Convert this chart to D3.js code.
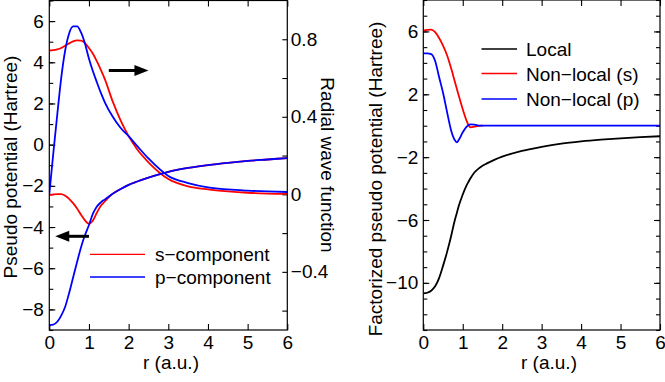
<!DOCTYPE html>
<html><head><meta charset="utf-8">
<script src="https://cdn.jsdelivr.net/npm/d3@7"></script>
<style>
body{margin:0;background:#fff}
svg{display:block}
text{font-family:"Liberation Sans",Arial,Helvetica,sans-serif;fill:#000}
</style>
</head><body>
<svg id="c" width="665" height="382"></svg>
<script>
// ---------- Data: left panel (pseudo potentials + radial wave functions) ----------
const rLeft  = [0,0.1,0.2,0.3,0.4,0.5,0.6,0.7,0.8,0.9,1.0,1.1,1.2,1.3,1.4,1.6,1.8,2.0,2.2,2.5,3.0,3.5,4.0,4.5,5.0,5.5,6.0];
const sPot   = [-2.45,-2.42,-2.40,-2.40,-2.48,-2.63,-2.84,-3.10,-3.40,-3.68,-3.84,-3.68,-3.30,-2.97,-2.76,-2.38,-2.15,-1.95,-1.80,-1.60,-1.32,-1.13,-0.99,-0.88,-0.79,-0.72,-0.65];
const pPot   = [-8.76,-8.74,-8.60,-8.30,-7.87,-7.20,-6.45,-5.70,-4.98,-4.39,-3.90,-3.35,-3.00,-2.80,-2.66,-2.38,-2.15,-1.95,-1.80,-1.60,-1.32,-1.13,-0.99,-0.88,-0.79,-0.72,-0.65];
const sWave  = [0.742,0.744,0.748,0.755,0.767,0.779,0.789,0.794,0.793,0.780,0.755,0.725,0.686,0.642,0.594,0.478,0.380,0.300,0.236,0.165,0.079,0.041,0.025,0.015,0.008,0.004,0.002];
const pWave  = [0.000,0.210,0.410,0.600,0.742,0.830,0.866,0.866,0.835,0.777,0.700,0.635,0.578,0.523,0.475,0.400,0.342,0.300,0.253,0.185,0.095,0.058,0.036,0.025,0.019,0.015,0.012];
const leftLegend = ["s\u2212component","p\u2212component"];
// arrows: [r start, r end, potential value]
const arrowRight = [1.5, 2.5, 3.6];
const arrowLeft  = [1.0, 0.15, -4.45];

// ---------- Data: right panel (factorized pseudo potential) ----------
const rRight = [0,0.1,0.2,0.3,0.4,0.5,0.6,0.7,0.8,0.85,0.9,1.0,1.1,1.15,1.2,1.3,1.4,1.5,1.6,1.8,2.0,2.5,3.0,3.5,4.0,4.5,5.0,5.5,6.0];
const localV = [-10.67,-10.63,-10.50,-10.22,-9.70,-8.92,-8.06,-7.08,-6.00,-5.55,-5.10,-4.38,-3.78,-3.55,-3.33,-2.96,-2.73,-2.55,-2.41,-2.17,-1.97,-1.60,-1.34,-1.14,-1.00,-0.89,-0.80,-0.73,-0.67];
const nlS    = [6.05,6.10,6.12,5.95,5.58,5.10,4.50,3.70,2.80,2.35,1.90,1.05,0.30,0.02,-0.10,-0.06,-0.01,0,0,0,0,0,0,0,0,0,0,0,0];
const nlP    = [4.60,4.60,4.56,4.12,3.10,2.10,0.90,-0.25,-0.92,-1.06,-0.90,-0.42,-0.06,0.04,0.08,0.07,0.01,0,0,0,0,0,0,0,0,0,0,0,0];
const nlSMaxR = 1.5;
const rightLegend = ["Local","Non\u2212local (s)","Non\u2212local (p)"];

const xTicks = [0,1,2,3,4,5,6];
const leftMajor = [-8,-6,-4,-2,0,2,4,6];
const leftMinor = d3.range(-9,8,1);
const waveMajor = [-0.4,0,0.4,0.8];
const waveMinor = [-0.6,-0.4,-0.2,0,0.2,0.4,0.6,0.8];
const rpMajor = [-10,-6,-2,2,6];
const rpMinor = d3.range(-13,9,1);

// ---------- Drawing ----------
const FS = 19;
const svg = d3.select("#c");
const RED = "#ff0000", BLUE = "#0000ff";

function mkAxis(g, gen){ g.call(gen); g.select(".domain").remove(); g.selectAll("line").attr("stroke","#000").attr("stroke-width",1.1); g.selectAll("text").attr("font-size",FS).attr("font-family",null).attr("fill","#000"); return g; }

function panel(P, x, y){
  mkAxis(svg.append("g").attr("transform",`translate(0,${P.y1})`), d3.axisBottom(x).tickValues(xTicks).tickSize(-6).tickPadding(6).tickFormat(d3.format("d")));
  mkAxis(svg.append("g").attr("transform",`translate(0,${P.y0})`), d3.axisTop(x).tickValues(xTicks).tickSize(-6).tickFormat(""));
}

// Left panel
const L = {x0:49.3, x1:287.3, y0:0.5, y1:330};
const xL = d3.scaleLinear().domain([0,6]).range([L.x0,L.x1]);
const yL = d3.scaleLinear().domain([-9,7]).range([L.y1,L.y0]);
const yW = d3.scaleLinear().domain([-0.7,1.0]).range([L.y1,L.y0]);

panel(L, xL, yL);
mkAxis(svg.append("g").attr("transform",`translate(${L.x0},0)`), d3.axisLeft(yL).tickValues(leftMinor).tickSize(-4).tickFormat(""));
mkAxis(svg.append("g").attr("transform",`translate(${L.x0},0)`), d3.axisLeft(yL).tickValues(leftMajor).tickSize(-6).tickPadding(5.5).tickFormat(d3.format("d")));
mkAxis(svg.append("g").attr("transform",`translate(${L.x1},0)`), d3.axisRight(yW).tickValues(waveMinor).tickSize(-5).tickFormat(""));
mkAxis(svg.append("g").attr("transform",`translate(${L.x1},0)`), d3.axisRight(yW).tickValues(waveMajor).tickSize(0).tickPadding(3.5).tickFormat(d=> d===0?"0":d3.format(".1f")(d)));

svg.append("defs").append("clipPath").attr("id","clipL").append("rect").attr("x",L.x0).attr("y",L.y0).attr("width",L.x1-L.x0).attr("height",L.y1-L.y0);

const lineLP = d3.line().x((d,i)=>xL(rLeft[i])).y(d=>yL(d)).curve(d3.curveMonotoneX);
const lineLW = d3.line().x((d,i)=>xL(rLeft[i])).y(d=>yW(d)).curve(d3.curveMonotoneX);
const gL = svg.append("g").attr("clip-path","url(#clipL)").attr("fill","none").attr("stroke-width",1.8);
gL.append("path").attr("d",lineLW(sWave)).attr("stroke",RED);
gL.append("path").attr("d",lineLP(sPot)).attr("stroke",RED);
gL.append("path").attr("d",lineLW(pWave)).attr("stroke",BLUE);
gL.append("path").attr("d",lineLP(pPot)).attr("stroke",BLUE);

svg.append("rect").attr("x",L.x0).attr("y",L.y0).attr("width",L.x1-L.x0).attr("height",L.y1-L.y0).attr("fill","none").attr("stroke","#000").attr("stroke-width",1.2);

// arrows
function arrow(a){
  const xs = xL(a[0]), xe = xL(a[1]), yy = yL(a[2]);
  const dir = Math.sign(xe-xs), hl = 14, hw = 5.5;
  svg.append("line").attr("x1",xs).attr("x2",xe-dir*hl+dir*1).attr("y1",yy).attr("y2",yy).attr("stroke","#000").attr("stroke-width",3);
  svg.append("path").attr("d",`M${xe},${yy}L${xe-dir*hl},${yy-hw}L${xe-dir*hl},${yy+hw}Z`).attr("fill","#000");
}
arrow(arrowRight); arrow(arrowLeft);

// left legend
const legL = [{t:leftLegend[0],c:RED,y:254.3},{t:leftLegend[1],c:BLUE,y:277}];
legL.forEach(d=>{
  svg.append("line").attr("x1",90).attr("x2",145).attr("y1",d.y).attr("y2",d.y).attr("stroke",d.c).attr("stroke-width",1.3);
  svg.append("text").attr("x",155).attr("y",d.y+7).attr("font-size",FS).text(d.t);
});

svg.append("text").attr("transform","translate(16.5,167) rotate(-90)").attr("text-anchor","middle").attr("font-size",FS).text("Pseudo potential (Hartree)");
svg.append("text").attr("transform","translate(321,165) rotate(90)").attr("text-anchor","middle").attr("font-size",FS).text("Radial wave function");
svg.append("text").attr("x",171).attr("y",369).attr("text-anchor","middle").attr("font-size",FS).text("r (a.u.)");

// Right panel
const R = {x0:423.3, x1:660, y0:0, y1:330};
const xR = d3.scaleLinear().domain([0,6]).range([R.x0,R.x1]);
const yP = d3.scaleLinear().domain([-13,8]).range([R.y1,R.y0]);
panel(R, xR, yP);
mkAxis(svg.append("g").attr("transform",`translate(${R.x0},0)`), d3.axisLeft(yP).tickValues(rpMinor).tickSize(-4).tickFormat(""));
mkAxis(svg.append("g").attr("transform",`translate(${R.x0},0)`), d3.axisLeft(yP).tickValues(rpMajor).tickSize(-6).tickPadding(5).tickFormat(d3.format("d")));
mkAxis(svg.append("g").attr("transform",`translate(${R.x1},0)`), d3.axisRight(yP).tickValues(rpMinor).tickSize(-4).tickFormat(""));
mkAxis(svg.append("g").attr("transform",`translate(${R.x1},0)`), d3.axisRight(yP).tickValues(rpMajor).tickSize(-6).tickFormat(""));

svg.select("defs").append("clipPath").attr("id","clipR").append("rect").attr("x",R.x0).attr("y",R.y0).attr("width",R.x1-R.x0).attr("height",R.y1-R.y0);
const lineR = d3.line().x((d,i)=>xR(rRight[i])).y(d=>yP(d)).curve(d3.curveMonotoneX);
const lineRS = d3.line().defined((d,i)=>rRight[i]<=nlSMaxR).x((d,i)=>xR(rRight[i])).y(d=>yP(d)).curve(d3.curveMonotoneX);
const gR = svg.append("g").attr("clip-path","url(#clipR)").attr("fill","none").attr("stroke-width",1.8);
gR.append("path").attr("d",lineR(localV)).attr("stroke","#000");
gR.append("path").attr("d",lineRS(nlS)).attr("stroke",RED);
gR.append("path").attr("d",lineR(nlP)).attr("stroke",BLUE);

svg.append("rect").attr("x",R.x0).attr("y",R.y0).attr("width",R.x1-R.x0).attr("height",R.y1-R.y0).attr("fill","none").attr("stroke","#000").attr("stroke-width",1.2);

const legR = [{t:rightLegend[0],c:"#000",y:49},{t:rightLegend[1],c:RED,y:73.5},{t:rightLegend[2],c:BLUE,y:99}];
legR.forEach(d=>{
  svg.append("line").attr("x1",481.5).attr("x2",517).attr("y1",d.y).attr("y2",d.y).attr("stroke",d.c).attr("stroke-width",1.3);
  svg.append("text").attr("x",526).attr("y",d.y+7).attr("font-size",FS).text(d.t);
});

svg.append("text").attr("transform","translate(382,179) rotate(-90)").attr("text-anchor","middle").attr("font-size",FS).text("Factorized pseudo potential (Hartree)");
svg.append("text").attr("x",549).attr("y",369).attr("text-anchor","middle").attr("font-size",FS).text("r (a.u.)");
</script>
</body></html>
